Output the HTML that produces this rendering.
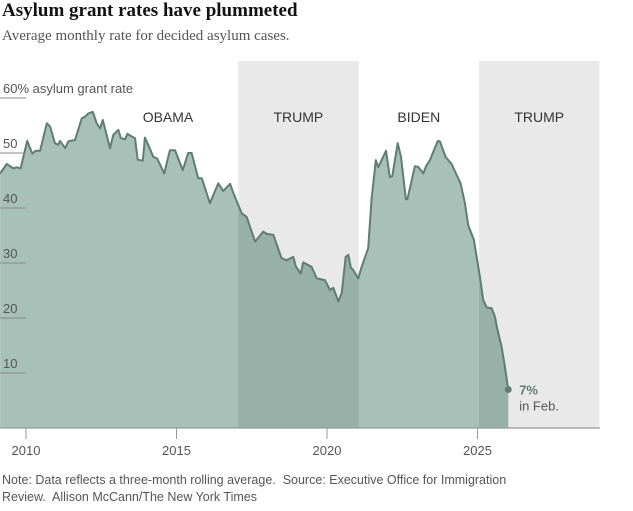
<!DOCTYPE html>
<html><head><meta charset="utf-8"><style>
body{margin:0;background:#fff;width:633px;height:511px;overflow:hidden;font-family:"Liberation Sans",sans-serif}
.t{position:absolute;left:2px;top:0px;font:bold 19px "Liberation Serif",serif;color:#121212}
.s{position:absolute;left:2px;top:28px;font:15px "Liberation Serif",serif;color:#555}
.n{position:absolute;left:2px;top:472px;font:12.5px "Liberation Sans",sans-serif;color:#555;line-height:17px;width:545px}
</style></head><body>
<div class="t">Asylum grant rates have plummeted</div>
<div class="s">Average monthly rate for decided asylum cases.</div>
<svg id="c" width="633" height="511" style="position:absolute;left:0;top:0"></svg>
<div class="n">Note: Data reflects a three-month rolling average.&nbsp; Source: Executive Office for Immigration Review.&nbsp; Allison McCann/The New York Times</div>
<script>
const years=[2009.14,2009.36,2009.58,2009.69,2009.82,2010.04,2010.21,2010.32,2010.47,2010.69,2010.80,2010.96,2011.07,2011.13,2011.30,2011.41,2011.63,2011.85,2011.96,2012.07,2012.22,2012.35,2012.46,2012.55,2012.79,2012.90,2013.07,2013.15,2013.29,2013.37,2013.51,2013.62,2013.71,2013.88,2013.95,2014.06,2014.23,2014.36,2014.59,2014.78,2014.95,2015.21,2015.39,2015.50,2015.72,2015.84,2016.11,2016.39,2016.55,2016.78,2016.89,2017.17,2017.33,2017.61,2017.88,2018.00,2018.22,2018.49,2018.66,2018.88,2018.97,2019.13,2019.21,2019.49,2019.66,2019.93,2020.10,2020.21,2020.38,2020.49,2020.62,2020.71,2020.79,2020.87,2021.04,2021.15,2021.37,2021.48,2021.62,2021.70,2021.96,2022.09,2022.17,2022.35,2022.46,2022.62,2022.67,2022.92,2023.03,2023.20,2023.29,2023.42,2023.68,2023.75,2023.94,2024.14,2024.31,2024.44,2024.58,2024.69,2024.88,2025.08,2025.19,2025.31,2025.47,2025.58,2025.64,2025.80,2025.91,2026.02];
const rates=[46.3,48,47.2,47.4,47.2,52.2,49.9,50.4,50.4,55.4,54.8,51.8,51.5,52.2,50.9,52.1,52.4,56.3,56.6,57.2,57.5,55.4,54.5,56,50.9,53.3,54.2,52.7,52.5,53.5,53,52.7,48.8,48.6,52.8,51.5,49.3,49,46.3,50.5,50.5,46.9,50,50,45.4,45.4,40.9,44.5,43.1,44.4,42.7,39,38.4,33.9,35.7,35.3,35.1,30.9,30.5,31.1,29.3,28.1,30.1,29.3,27.2,26.9,25.1,25.5,23,24.5,31.1,31.5,29.2,28.7,27.2,29.3,32.7,41.5,48.7,47.4,50.4,45.6,45.8,51.8,49.3,41.6,41.6,47.6,47.5,46.3,47.6,48.7,52.2,52.1,49.3,48,46,44.5,40.9,36.9,34.2,27.5,23.3,21.9,21.8,20.2,18.4,14.8,11.1,7];
const yTicks=[10,20,30,40,50];
const xTicks=[2010,2015,2020,2025];
const terms=[{name:"OBAMA",start:2009.05,end:2017.05,shade:false},{name:"TRUMP",start:2017.05,end:2021.05,shade:true},{name:"BIDEN",start:2021.05,end:2025.05,shade:false},{name:"TRUMP",start:2025.05,end:2029.05,shade:true}];
const NS="http://www.w3.org/2000/svg";
const svg=document.getElementById('c');
const X=y=>26+(y-2010)*30.1;
const Y=v=>428-v*5.5;
function mk(tag,at,parent){const e=document.createElementNS(NS,tag);for(const k in at)e.setAttribute(k,at[k]);(parent||svg).appendChild(e);return e;}
const defs=mk('defs',{});
const cp=mk('clipPath',{id:'tc'},defs);
terms.forEach(t=>{
  if(t.shade){
    const r=mk('rect',{x:X(t.start),y:61,width:Math.min(X(t.end),600)-X(t.start),height:367,fill:'#e9e9e9'});
    
    
    mk('rect',{x:X(t.start),y:61,width:Math.min(X(t.end),600)-X(t.start),height:367},cp);
  }
});
let d='M'+X(years[0]).toFixed(1)+','+Y(0);
years.forEach((y,i)=>{d+=' L'+X(y).toFixed(1)+','+Y(rates[i]).toFixed(1);});
d+=' L'+X(years[years.length-1]).toFixed(1)+','+Y(0)+' Z';
const a=mk('path',{d:d,fill:'#a7c1b9'});


const a2=mk('path',{d:d,fill:'#97b0a8','clip-path':'url(#tc)'});


let ld='';
years.forEach((y,i)=>{ld+=(i?' L':'M')+X(y).toFixed(1)+','+Y(rates[i]).toFixed(1);});
const ln=mk('path',{d:ld,fill:'none',stroke:'#5f7d73','stroke-width':2,'stroke-linejoin':'round'});


yTicks.concat([60]).forEach(v=>{
  const g=mk('line',{x1:0,x2:26,y1:Y(v),y2:Y(v),stroke:'#888','stroke-width':1});
  
  
});
yTicks.forEach(v=>{
  const t=mk('text',{x:3,y:Y(v)-5,'font-size':13,fill:'#555'});
  t.textContent=v;
  
  
});
const yt=mk('text',{x:3,y:Y(60)-5,'font-size':13,fill:'#555'});
yt.textContent='60% asylum grant rate';


const ax=mk('line',{x1:0,x2:600,y1:428,y2:428,stroke:'#999','stroke-width':1.3});


xTicks.forEach(y=>{
  const tk=mk('line',{x1:X(y),x2:X(y),y1:428,y2:439,stroke:'#999','stroke-width':1});
  
  
  const t=mk('text',{x:X(y),y:455,'font-size':13,fill:'#555','text-anchor':'middle'});
  t.textContent=y;
  
  
});
terms.forEach(t=>{
  const cx=t.name==='OBAMA'?168:(X(t.start)+Math.min(X(t.end),600))/2;
  const tx=mk('text',{x:cx,y:122,'font-size':14,fill:'#333','text-anchor':'middle'});
  tx.textContent=t.name;
  
  
});
const li=years.length-1;
const dot=mk('circle',{cx:X(years[li]),cy:Y(rates[li]),r:3.5,fill:'#5f7d73'});


const l1=mk('text',{x:X(years[li])+11,y:Y(rates[li])+5,'font-size':13,fill:'#5f7d73','font-weight':'bold'});
l1.textContent=rates[li]+'%';


const l2=mk('text',{x:X(years[li])+11,y:Y(rates[li])+21,'font-size':13,fill:'#555'});
l2.textContent='in Feb.';


</script>
</body></html>
